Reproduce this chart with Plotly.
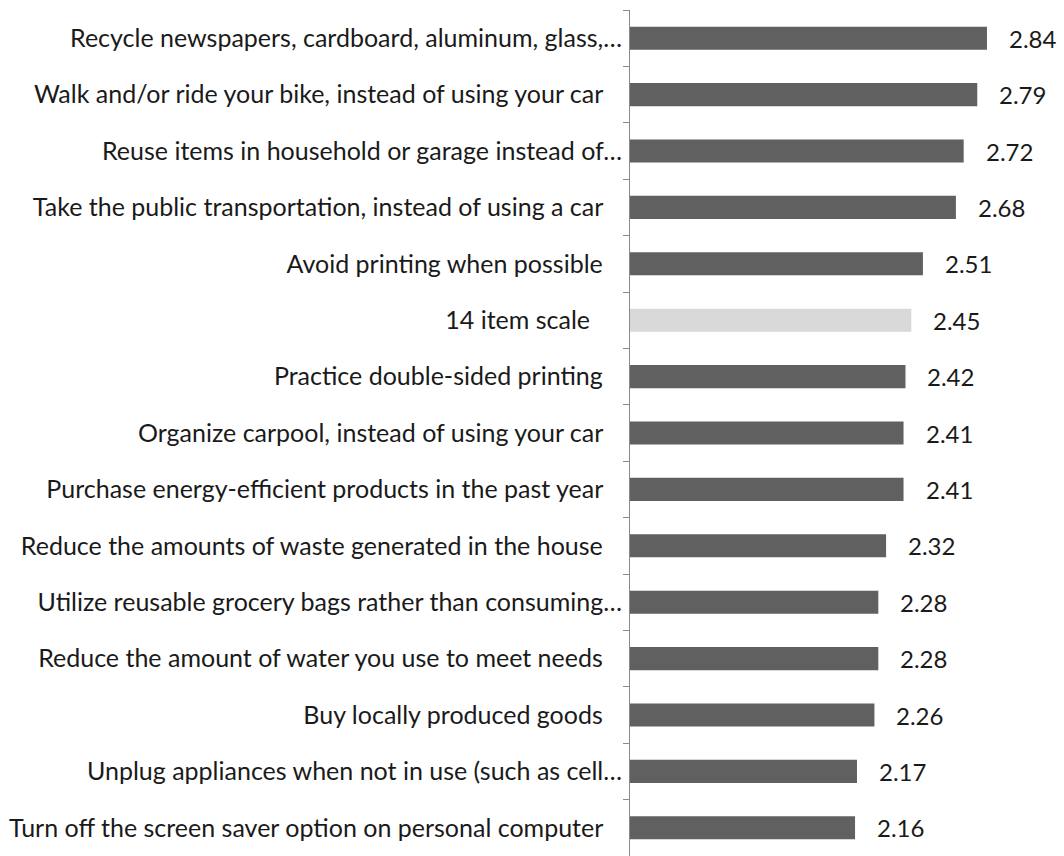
import plotly.graph_objects as go

# Survey items (top to bottom) and their mean scores
items = [
    "Recycle newspapers, cardboard, aluminum, glass,…",
    "Walk and/or ride your bike, instead of using your car",
    "Reuse items in household or garage instead of…",
    "Take the public transportation, instead of using a car",
    "Avoid printing when possible",
    "14 item scale",
    "Practice double-sided printing",
    "Organize carpool, instead of using your car",
    "Purchase energy-efficient products in the past year",
    "Reduce the amounts of waste generated in the house",
    "Utilize reusable grocery bags rather than consuming…",
    "Reduce the amount of water you use to meet needs",
    "Buy locally produced goods",
    "Unplug appliances when not in use (such as cell…",
    "Turn off the screen saver option on personal computer",
]
scores = [2.84, 2.79, 2.72, 2.68, 2.51, 2.45, 2.42, 2.41, 2.41, 2.32, 2.28, 2.28, 2.26, 2.17, 2.16]

# The overall scale is highlighted in a lighter tone
DARK = "#606060"
LIGHT = "#d9d9d9"
colors = [LIGHT if name == "14 item scale" else DARK for name in items]

FONT = "Lato, Carlito, Calibri, sans-serif"
NBSP = "\u00a0"


def axis_label(name):
    # full-length labels carry a trailing space; truncated ones end at the ellipsis
    if name.endswith("…"):
        return name
    if name == "14 item scale":
        return name + NBSP * 5
    return name + NBSP * 3


labels = [axis_label(n) for n in items]

fig = go.Figure(
    go.Bar(
        x=scores,
        y=labels,
        orientation="h",
        marker=dict(color=colors, line=dict(width=0)),
        hoverinfo="x+y",
    )
)

# Value labels to the right of each bar
for lab, val in zip(labels, scores):
    fig.add_annotation(
        x=val, y=lab, text=f"{val:.2f}", showarrow=False,
        xanchor="left", xshift=20,
        font=dict(family=FONT, size=24, color="#1a1a1a"),
    )

fig.update_layout(
    width=1064, height=856,
    margin=dict(l=630, r=46, t=10, b=0),
    paper_bgcolor="white", plot_bgcolor="white",
    bargap=0.59,
    showlegend=False,
    font=dict(family=FONT, size=25, color="#1a1a1a"),
)
fig.update_xaxes(
    range=[1, 3], showgrid=False, zeroline=False, showline=False,
    showticklabels=False, ticks="",
)
fig.update_yaxes(
    autorange="reversed", showgrid=False, zeroline=False,
    showline=True, linecolor="#8a8a8a", linewidth=1,
    ticks="outside", tickson="boundaries", ticklen=6, tickcolor="#8a8a8a",
    ticklabelstandoff=2,
    tickfont=dict(family=FONT, size=25, color="#1a1a1a"),
)

fig.write_html("out.html")
